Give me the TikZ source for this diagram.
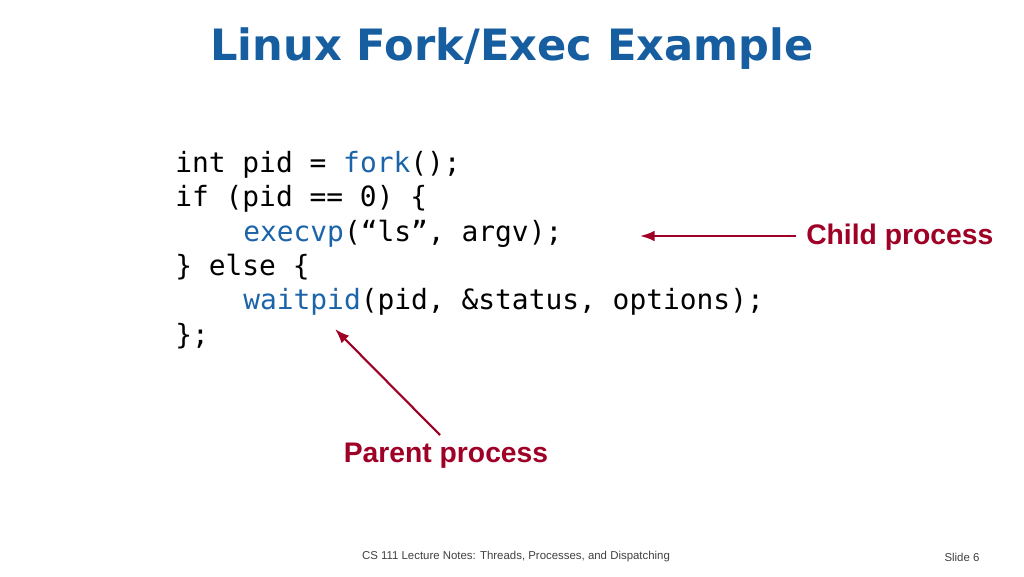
\documentclass[tikz,border=0pt]{standalone}
\usepackage{fontspec}
\setmainfont{Liberation Sans}
\newfontfamily\titlefont{DejaVu Sans}
\newfontfamily\codefont{DejaVu Sans Mono}
\usetikzlibrary{positioning,arrows.meta}
\definecolor{slideblue}{RGB}{22,94,160}
\definecolor{codeblue}{RGB}{28,100,170}
\definecolor{labelred}{RGB}{158,0,38}
\begin{document}
\begin{tikzpicture}[x=0.02646cm,y=-0.02646cm,
    codeline/.style = {anchor=base west, inner sep=0pt, font=\codefont\fontsize{21}{24}\selectfont},
    proclabel/.style = {text=labelred, font=\bfseries\fontsize{21.3}{24}\selectfont, inner sep=0pt},
    procarrow/.style = {draw=labelred, line width=1.6pt, -{Latex[length=11pt,width=8pt]}}
  ]
  \useasboundingbox (0,0) rectangle (1024,576);
  \node[text=slideblue, font=\titlefont\bfseries\fontsize{32.5}{38}\selectfont] (title) at (512,49) {Linux Fork/Exec Example};
  % code lines
  \node[codeline] (c1) at (175,172) {int pid = \textcolor{codeblue}{fork}();};
  \node[codeline] (c2) at (175,206) {if (pid == 0) \{};
  \node[codeline] (c3) at (243,241) {\textcolor{codeblue}{execvp}(“ls”, argv);};
  \node[codeline] (c4) at (175,275) {\} else \{};
  \node[codeline] (c5) at (243,309) {\textcolor{codeblue}{waitpid}(pid, \&status, options);};
  \node[codeline] (c6) at (175,344) {\};};
  % labels
  \node[proclabel, anchor=west] (child) at (806,237) {Child process};
  \node[proclabel] (parent) at (446,456) {Parent process};
  \coordinate (childtip) at (640,236);
  \coordinate (parenttip) at (335,329);
  \draw[procarrow] (child.west) ++(-10,-1) -- (childtip);
  \draw[procarrow] (440,435) -- (parenttip);
  % footer
  \node[font=\fontsize{8.6}{10}\selectfont, text=black!75] (footer) at (516,557) {CS 111 Lecture Notes: Threads, Processes, and Dispatching};
  \node[font=\fontsize{8.6}{10}\selectfont, text=black!75] (slideno) at (962,557) {Slide 6};
\end{tikzpicture}
\end{document}
